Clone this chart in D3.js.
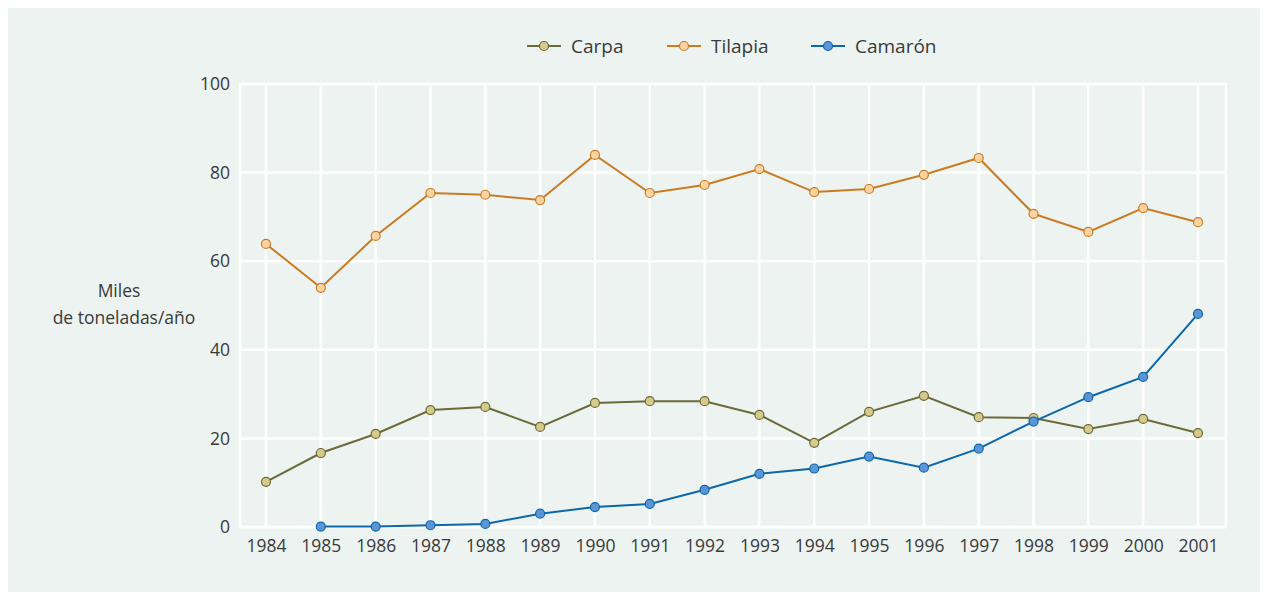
<!DOCTYPE html>
<html lang="es">
<head>
<meta charset="UTF-8">
<title>Producción acuícola</title>
<script src="https://d3js.org/d3.v7.min.js"></script>
<style>
  html, body { margin: 0; padding: 0; background: #fff; }
  svg { display: block; }
  text { font-family: "Open Sans", sans-serif; font-weight: 400; fill: #3a3a3a; }
</style>
</head>
<body>
<script>
// data (miles de toneladas/año)
const years = [1984, 1985, 1986, 1987, 1988, 1989, 1990, 1991, 1992, 1993,
               1994, 1995, 1996, 1997, 1998, 1999, 2000, 2001];
const carpa = [10.2, 16.7, 21.0, 26.4, 27.1, 22.6, 28.0, 28.4, 28.4, 25.3,
               19.0, 26.0, 29.6, 24.8, 24.6, 22.1, 24.4, 21.2];
const tilapia = [63.9, 54.0, 65.7, 75.4, 75.0, 73.8, 84.0, 75.4, 77.2, 80.8,
                 75.6, 76.3, 79.5, 83.3, 70.7, 66.6, 72.0, 68.8];
const camaron = [null, 0.1, 0.1, 0.4, 0.7, 3.0, 4.5, 5.2, 8.4, 12.0,
                 13.2, 15.9, 13.4, 17.7, 23.8, 29.3, 33.9, 48.1];
const yTicks = [0, 20, 40, 60, 80, 100];

const series = [
  { name: "Carpa", values: carpa, stroke: "#6b6a38", fill: "#d6c98c" },
  { name: "Tilapia", values: tilapia, stroke: "#c97c22", fill: "#fdd3a2" },
  { name: "Camarón", values: camaron, stroke: "#0b68aa", fill: "#5c95d6" }
];

const W = 1268, H = 595;
const frame = { left: 240, right: 1226, top: 84, bottom: 527 };

const svg = d3.select("body").append("svg")
  .attr("width", W).attr("height", H);

// background panel
svg.append("rect")
  .attr("x", 8).attr("y", 8).attr("width", 1252).attr("height", 584)
  .attr("fill", "#edf3f1");

const x = d3.scalePoint().domain(years).range([266, 1198]);
const y = d3.scaleLinear().domain([0, 100]).range([frame.bottom, frame.top]);

// grid
const grid = svg.append("g").attr("stroke", "#fff").attr("stroke-width", 2.5);
grid.selectAll(".gy").data(yTicks).join("line")
  .attr("x1", frame.left).attr("x2", frame.right)
  .attr("y1", d => y(d)).attr("y2", d => y(d));
grid.selectAll(".gx").data(years).join("line")
  .attr("x1", d => x(d)).attr("x2", d => x(d))
  .attr("y1", frame.top).attr("y2", frame.bottom);
grid.append("rect")
  .attr("x", frame.left).attr("y", frame.top)
  .attr("width", frame.right - frame.left).attr("height", frame.bottom - frame.top)
  .attr("fill", "none");

// axes (labels only)
const yAxis = svg.append("g")
  .attr("transform", `translate(${frame.left},0)`)
  .call(d3.axisLeft(y).tickValues(yTicks).tickSize(0).tickPadding(10));
const xAxis = svg.append("g")
  .attr("transform", `translate(0,${frame.bottom})`)
  .call(d3.axisBottom(x).tickSize(0).tickPadding(13));
[yAxis, xAxis].forEach(a => {
  a.select(".domain").remove();
  a.selectAll("text").attr("font-size", 17.5)
    .attr("font-family", '"Open Sans", sans-serif');
});

// y label
const yl = svg.append("text").attr("text-anchor", "middle").attr("font-size", 17.5);
yl.append("tspan").attr("x", 119).attr("y", 297).text("Miles");
yl.append("tspan").attr("x", 124).attr("y", 324).text("de toneladas/año");

// lines
const line = d3.line()
  .defined(d => d.v != null)
  .x(d => x(d.year)).y(d => y(d.v));

series.forEach(s => {
  const pts = years.map((yr, i) => ({ year: yr, v: s.values[i] }));
  const g = svg.append("g");
  g.append("path").datum(pts)
    .attr("d", line).attr("fill", "none")
    .attr("stroke", s.stroke).attr("stroke-width", 2);
  g.selectAll("circle").data(pts.filter(d => d.v != null)).join("circle")
    .attr("cx", d => x(d.year)).attr("cy", d => y(d.v)).attr("r", 4.5)
    .attr("fill", s.fill).attr("stroke", s.stroke).attr("stroke-width", 1.2);
});

// legend
const legendX = [527, 667, 811];
const leg = svg.append("g");
series.forEach((s, i) => {
  const g = leg.append("g").attr("transform", `translate(${legendX[i]},46)`);
  g.append("line").attr("x1", 0).attr("x2", 34)
    .attr("stroke", s.stroke).attr("stroke-width", 2);
  g.append("circle").attr("cx", 17).attr("r", 4.5)
    .attr("fill", s.fill).attr("stroke", s.stroke).attr("stroke-width", 1.2);
  g.append("text").attr("x", 44).attr("y", 6.5).attr("font-size", 19).text(s.name);
});
</script>
</body>
</html>
